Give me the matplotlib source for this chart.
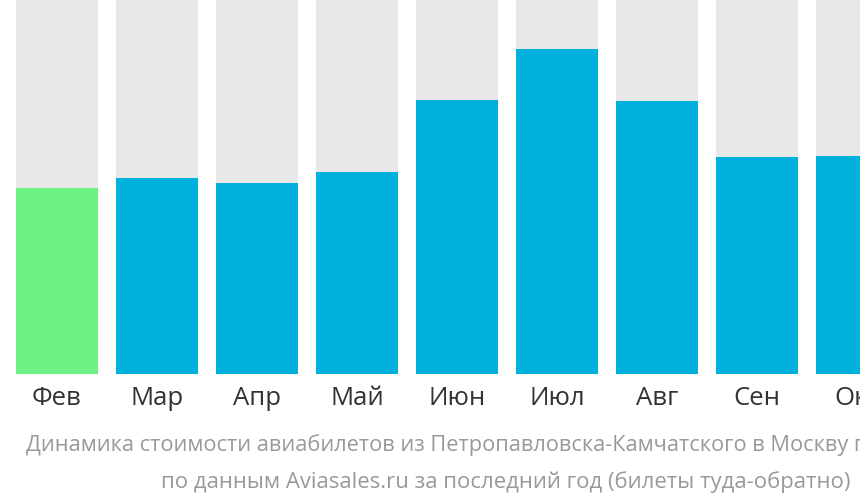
import matplotlib.pyplot as plt

plt.rcParams['font.family'] = ['Open Sans', 'DejaVu Sans']

months = ['Фев', 'Мар', 'Апр', 'Май', 'Июн', 'Июл', 'Авг', 'Сен', 'Окт']
prices = [185, 195, 190, 201, 273, 324, 272, 216, 217]
scale_max = 374
colors = ['#6cf185'] + ['#01b1dd'] * (len(months) - 1)

caption1 = 'Динамика стоимости авиабилетов из Петропавловска-Камчатского в Москву по месяцам'
caption2 = 'по данным Aviasales.ru за последний год (билеты туда-обратно)'

fig = plt.figure(figsize=(8.6, 5.02), dpi=100)
ax = fig.add_axes([0, 127.5 / 502, 1, 375 / 502])

x = list(range(len(months)))
ax.bar(x, [scale_max] * len(months), width=0.82, color='#e8e8e8')
ax.bar(x, prices, width=0.82, color=colors)
ax.set_xlim(-0.57, 8.03)
ax.set_ylim(0, scale_max)
ax.axis('off')

for i, m in enumerate(months):
    ax.text(i, -24, m, ha='center', va='center', fontsize=18.5, color='#333333')

fig.text(26 / 860, 1 - 445 / 502, caption1, ha='left', va='center', fontsize=15.65, color='#999999')
fig.text(506 / 860, 1 - 482 / 502, caption2, ha='center', va='center', fontsize=15.9, color='#999999')

fig.savefig('out.png', dpi=100)
